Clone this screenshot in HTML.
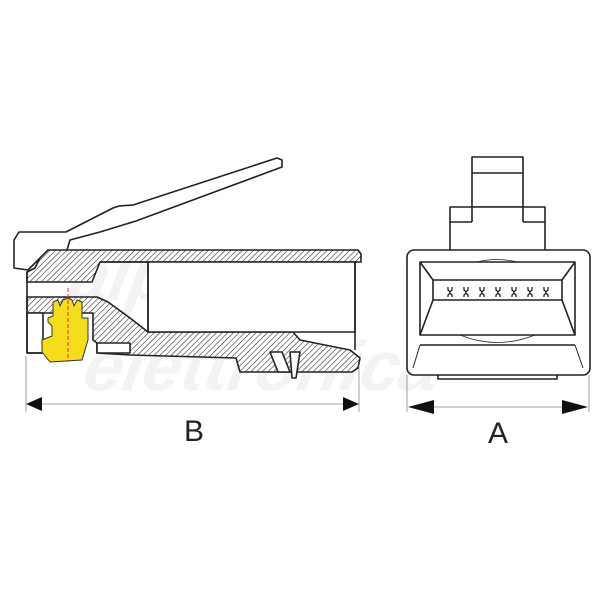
<!DOCTYPE html>
<html><head><style>html,body{margin:0;padding:0;background:#fff;width:600px;height:600px;overflow:hidden}</style></head>
<body>
<svg width="600" height="600" viewBox="0 0 600 600" xmlns="http://www.w3.org/2000/svg">
<defs>
<pattern id="h" patternUnits="userSpaceOnUse" width="4" height="4" patternTransform="rotate(45)">
<rect width="4" height="4" fill="#fff"/><line x1="0" y1="0" x2="0" y2="4" stroke="#222" stroke-width="1.1"/>
</pattern>
</defs>
<g fill="#f3f3f3" font-family="Liberation Sans, sans-serif" font-weight="bold" font-style="italic" font-size="70">
<text x="120" y="300" transform="skewX(-10)">alpha</text>
<text x="150" y="390" transform="skewX(-10)">elettronica</text>
</g>
<g stroke="#222" stroke-width="1.6" fill="none" stroke-linejoin="round">
<path d="M14,268 L14,240 L19,232 L66,232 L113,208 L119,206 L133,205 L277,158 L282,160 L282,167 L136,221 L100,232 L70,240 L67,250 L40,258 L28,270 Z" fill="#fff"/>
<path d="M40,258 L48,250 L358,250 L361,254 L361,262 L148,262 L100,262 L92,282 L27,282 L27,272 L35,268 Z" fill="url(#h)"/>
<path d="M27,297 L97,297 L108,302 L130,318 L148,332 L293,332 L300,340 L350,350 L360,358 L358,368 L352,372 L240,372 L236,358 L130,355 L97,353 L97,343 L93,340 L93,313 L27,313 Z" fill="url(#h)"/>
<rect x="27" y="313" width="16" height="40" fill="#fff"/>
<rect x="97" y="343" width="33" height="10" fill="#fff"/>
<rect x="148" y="262" width="207" height="70" fill="#fff"/>
<line x1="355" y1="262" x2="355" y2="350"/>
<line x1="148" y1="262" x2="148" y2="332"/>
<line x1="100" y1="262" x2="148" y2="262"/>
<line x1="27" y1="272" x2="27" y2="353"/>
<line x1="27" y1="353" x2="43" y2="353"/>
<path d="M270,352 L282,352 L290,372 L278,372 Z" fill="#fff"/>
<path d="M290,352 L300,352 L296,378 L292,378 Z" fill="#fff"/>
<path d="M53,302 L58,300 L60,306 L63,300 L68,298 L72,300 L74,306 L77,300 L82,302 L82,318 L88,318 L88,340 L82,360 L50,362 L42,352 L42,340 L52,336 L52,326 L48,322 L48,318 L53,316 Z" fill="#f5dc1c" stroke="#333" stroke-width="1"/>
<line x1="68" y1="288" x2="68" y2="362" stroke="#d33" stroke-width="1" stroke-dasharray="4,2"/>
<line x1="26" y1="356" x2="26" y2="412" stroke-width="0.8" stroke="#888"/>
<line x1="359" y1="365" x2="359" y2="412" stroke-width="0.8" stroke="#888"/>
<line x1="36" y1="404" x2="348" y2="404" stroke-width="0.8" stroke="#888"/>
<rect x="472" y="157" width="51" height="50" fill="#fff"/>
<line x1="472" y1="173" x2="523" y2="173"/>
<path d="M450,250 L450,207 L545,207 L545,250" fill="#fff"/>
<line x1="472" y1="207" x2="472" y2="222"/><line x1="450" y1="222" x2="472" y2="222"/>
<line x1="523" y1="207" x2="523" y2="222"/><line x1="523" y1="222" x2="545" y2="222"/>
<rect x="407" y="250" width="183" height="125" rx="7" fill="#fff"/>
<path d="M420,262 L575,262 L575,335 L420,335 Z"/>
<path d="M420,262 L433,280 L433,300 L420,335 M575,262 L562,280 L562,300 L575,335"/>
<line x1="433" y1="280" x2="562" y2="280"/>
<line x1="433" y1="300" x2="562" y2="300"/>
<line x1="420" y1="345" x2="575" y2="345"/>
<path d="M420,345 L413,368 M575,345 L583,368" stroke-width="1"/>
<path d="M477,262 Q497,257 517,262 M460,335 Q497,350 535,335" stroke-width="0.8"/>
<path d="M438,375 L438,379 L557,379 L557,375"/>
<line x1="407" y1="375" x2="407" y2="412" stroke-width="0.8" stroke="#888"/>
<line x1="589" y1="375" x2="589" y2="412" stroke-width="0.8" stroke="#888"/>
<line x1="418" y1="407" x2="578" y2="407" stroke-width="0.8" stroke="#888"/>
</g>
<g fill="none" stroke="#222" stroke-width="1.3">
<path d="M448,287 l0,3 l2,2 l2,-2 l0,-3 M464,287 l0,3 l2,2 l2,-2 l0,-3 M480,287 l0,3 l2,2 l2,-2 l0,-3 M496,287 l0,3 l2,2 l2,-2 l0,-3 M512,287 l0,3 l2,2 l2,-2 l0,-3 M528,287 l0,3 l2,2 l2,-2 l0,-3 M544,287 l0,3 l2,2 l2,-2 l0,-3"/>
<path d="M448,297 l0,-2 l2,-2 l2,2 l0,2 M464,297 l0,-2 l2,-2 l2,2 l0,2 M480,297 l0,-2 l2,-2 l2,2 l0,2 M496,297 l0,-2 l2,-2 l2,2 l0,2 M512,297 l0,-2 l2,-2 l2,2 l0,2 M528,297 l0,-2 l2,-2 l2,2 l0,2 M544,297 l0,-2 l2,-2 l2,2 l0,2"/>
</g>
<g fill="#111">
<path d="M26,404 L42,397 L42,411 Z"/>
<path d="M359,404 L343,397 L343,411 Z"/>
<path d="M408,407 L434,400 L434,414 Z"/>
<path d="M588,407 L562,400 L562,414 Z"/>
</g>
<g font-family="Liberation Sans, sans-serif" font-size="30" fill="#222" text-anchor="middle">
<text x="194" y="441">B</text>
<text x="498" y="443">A</text>
</g>
</svg>
</body></html>
